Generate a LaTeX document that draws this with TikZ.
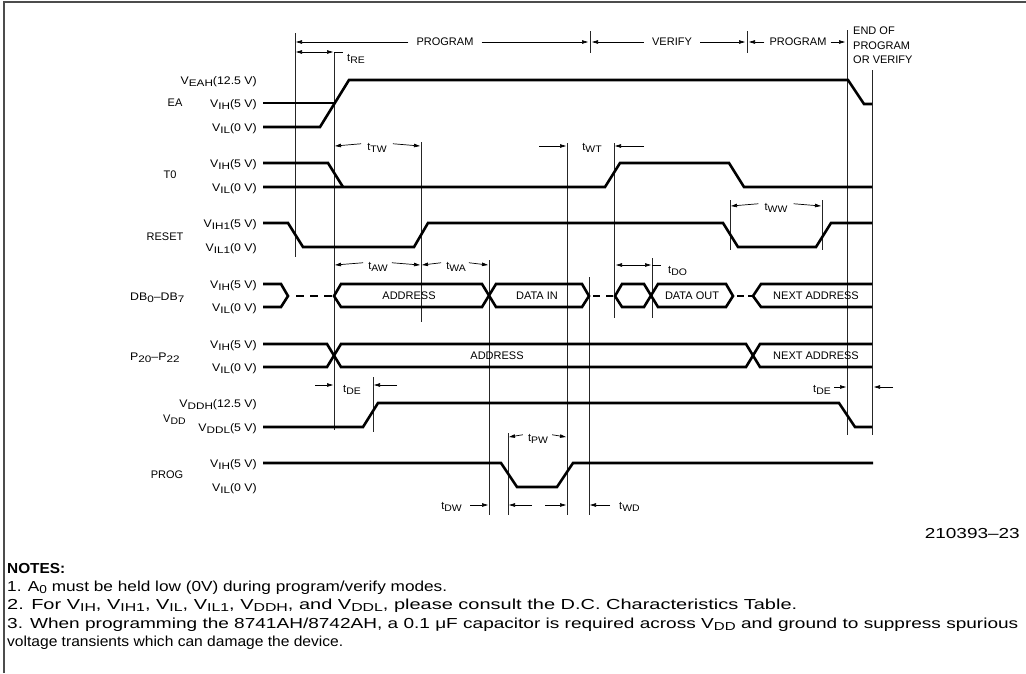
\documentclass[tikz,border=0pt]{standalone}
\usepackage{fontspec}
\setmainfont{Liberation Sans}
\usetikzlibrary{arrows.meta}
\newcommand\lo[1]{\raisebox{-0.45ex}{\fontsize{9.5}{10}\selectfont\scalebox{1.1}[1]{#1}}}
\newcommand\lv[1]{\scalebox{1.12}[1]{#1}}
\newcommand\nlo[1]{\raisebox{-0.35ex}{\fontsize{11.5}{12}\selectfont #1}}
\newcommand\fitw[2]{\resizebox{#1}{\height}{#2}}
\begin{document}
\begin{tikzpicture}[x=1pt,y=-1pt,
  sig/.style={line width=2.6pt, line join=miter},
  guide/.style={line width=0.7pt, black!85},
  dim/.style={line width=0.7pt},
  lbl/.style={inner sep=0pt, font=\fontsize{11}{13}\selectfont},
  lvl/.style={lbl, anchor=base east},
  note/.style={inner sep=0pt, anchor=base west, font=\fontsize{14.5}{16}\selectfont},
  >={Triangle[length=6pt,width=3.5pt]}]

\useasboundingbox (0,0) rectangle (1026,673);
\fill[white] (0,0) rectangle (1026,673);
\draw[line width=2pt, black!70] (4,673) -- (4,2) -- (1026,2);

% ---------- header ----------
\node[lbl] (hp1) at (445,42) {PROGRAM};
\node[lbl] (hv) at (672,42) {VERIFY};
\node[lbl] (hp2) at (798,42) {PROGRAM};
\draw[dim,->] (hp1.west) ++(-8,0) -- (296,42);
\draw[dim,->] (hp1.east) ++(8,0) -- (588,42);
\draw[guide] (590,31) -- (590,53);
\draw[dim,->] (hv.west) ++(-8,0) -- (592,42);
\draw[dim,->] (hv.east) ++(8,0) -- (745,42);
\draw[guide] (747,31) -- (747,53);
\draw[dim,->] (hp2.west) ++(-5,0) -- (749,42);
\draw[dim,->] (hp2.east) ++(4,0) -- (845,42);
\node[inner sep=0pt, anchor=north west, align=left, font=\fontsize{11}{14.5}\selectfont] (hend) at (853,27) {END OF\\PROGRAM\\OR VERIFY};

% ---------- guide lines ----------
\draw[guide] (295,33) -- (295,257);
\draw[guide] (334,52) -- (334,430);
\draw[guide] (421,142) -- (421,322);
\draw[guide] (489,260) -- (489,515);
\draw[guide] (508,433) -- (508,515);
\draw[guide] (567,143) -- (567,515);
\draw[guide] (589,277) -- (589,515);
\draw[guide] (614,143) -- (614,318);
\draw[guide] (652,258) -- (652,318);
\draw[guide] (730,200) -- (730,250);
\draw[guide] (822,200) -- (822,250);
\draw[guide] (847,30) -- (847,435);
\draw[guide] (872,70) -- (872,435);
\draw[guide] (373,377) -- (373,432);

% ---------- signal names ----------
\node[lbl] (nEA) at (175,103) {EA};
\node[lbl] (nT0) at (170,175) {T0};
\node[lbl] (nRST) at (165,237) {RESET};
\node[lbl, anchor=base west] (nDB) at (130,300) {\lv{DB\lo{0}--DB\lo{7}}};
\node[lbl, anchor=base west] (nP) at (130,360) {\lv{P\lo{20}--P\lo{22}}};
\node[lbl, anchor=base west] (nVDD) at (163,422) {V\lo{DD}};
\node[lbl] (nPROG) at (167,475) {PROG};

% ---------- level labels ----------
\node[lvl] (lEAH) at (257,84) {\lv{V\lo{EAH}(12.5 V)}};
\node[lvl] (lEAIH) at (257,107) {\lv{V\lo{IH}(5 V)}};
\node[lvl] (lEAIL) at (257,131) {\lv{V\lo{IL}(0 V)}};
\node[lvl] (lT0IH) at (257,167) {\lv{V\lo{IH}(5 V)}};
\node[lvl] (lT0IL) at (257,191) {\lv{V\lo{IL}(0 V)}};
\node[lvl] (lRIH) at (257,227) {\lv{V\lo{IH1}(5 V)}};
\node[lvl] (lRIL) at (257,251) {\lv{V\lo{IL1}(0 V)}};
\node[lvl] (lDBIH) at (257,288) {\lv{V\lo{IH}(5 V)}};
\node[lvl] (lDBIL) at (257,311) {\lv{V\lo{IL}(0 V)}};
\node[lvl] (lPIH) at (257,348) {\lv{V\lo{IH}(5 V)}};
\node[lvl] (lPIL) at (257,371) {\lv{V\lo{IL}(0 V)}};
\node[lvl] (lVDDH) at (257,407) {\lv{V\lo{DDH}(12.5 V)}};
\node[lvl] (lVDDL) at (257,431) {\lv{V\lo{DDL}(5 V)}};
\node[lvl] (lPRIH) at (257,467) {\lv{V\lo{IH}(5 V)}};
\node[lvl] (lPRIL) at (257,491) {\lv{V\lo{IL}(0 V)}};

% ---------- EA ----------
\draw[sig] (263,103) -- (335,103);
\draw[sig] (263,127) -- (320,127) -- (349,80) -- (848,80) -- (864,104) -- (872,104);
\draw[dim,<->] (296,52) -- (333,52);
\draw[dim] (334,52) -- (343,52);
\node[lbl, anchor=base west] (tRE) at (347,61) {t\lo{RE}};

% ---------- T0 ----------
\draw[sig] (263,163) -- (328,163) -- (343,187);
\draw[sig] (263,187) -- (605,187) -- (620,163) -- (729,163) -- (744,187) -- (872,187);
\node[lbl, anchor=base] (tTW) at (377,150) {t\lo{TW}};
\draw[dim,->] (tTW.west) ++(-6,-4) -- (335,146);
\draw[dim,->] (tTW.east) ++(6,-4) -- (420,146);
\node[lbl, anchor=base] (tWT) at (592,150) {t\lo{WT}};
\draw[dim,->] (539,146) -- (566,146);
\draw[dim,->] (644,146) -- (615,146);

% ---------- RESET ----------
\draw[sig] (263,223) -- (288,223) -- (303,247) -- (414,247) -- (428,223) -- (723,223) -- (738,247) -- (816,247) -- (831,223) -- (872,223);
\node[lbl, anchor=base] (tWW) at (776,210) {t\lo{WW}};
\draw[dim,->] (tWW.west) ++(-6,-4) -- (731,206);
\draw[dim,->] (tWW.east) ++(6,-4) -- (821,206);

% ---------- DB0-DB7 ----------
\node[lbl, anchor=base] (tAW) at (378,269) {t\lo{AW}};
\draw[dim,->] (tAW.west) ++(-5,-4) -- (335,265);
\draw[dim,->] (tAW.east) ++(4,-4) -- (420,265);
\node[lbl, anchor=base] (tWA) at (456,269) {t\lo{WA}};
\draw[dim,->] (tWA.west) ++(-5,-4) -- (422,265);
\draw[dim,->] (tWA.east) ++(3,-4) -- (488,265);
\draw[dim,<->] (616,265) -- (651,265);
\draw[dim] (652,265) -- (661,265);
\node[lbl, anchor=base west] (tDO) at (668,273) {t\lo{DO}};

\draw[sig] (263,284) -- (281,284) -- (288,296) -- (281,307) -- (263,307);
\draw[sig, dash pattern=on 8pt off 6pt] (296,296) -- (334,296);
\draw[sig] (334,296) -- (341,284) -- (482,284) -- (496,307) -- (582,307) -- (589,296) -- (582,284) -- (496,284) -- (482,307) -- (341,307) -- cycle;
\draw[sig] (593,296) -- (600,296) (606,296) -- (613,296);
\draw[sig] (615,296) -- (622,284) -- (644,284) -- (658,307) -- (726,307) -- (733,296) -- (726,284) -- (658,284) -- (644,307) -- (622,307) -- cycle;
\draw[sig] (737,296) -- (744,296) (748,296) -- (753,296);
\draw[sig] (872,284) -- (761,284) -- (753,296) -- (761,307) -- (872,307);
\node[lbl] (dADDR) at (409,296) {ADDRESS};
\node[lbl] (dDIN) at (537,296) {DATA IN};
\node[lbl] (dDOUT) at (692,296) {DATA OUT};
\node[lbl] (dNEXT) at (816,296) {NEXT ADDRESS};

% ---------- P20-P22 ----------
\draw[sig] (263,344) -- (327,344) -- (341,367) -- (746,367) -- (760,344) -- (872,344);
\draw[sig] (263,367) -- (327,367) -- (341,344) -- (746,344) -- (760,367) -- (872,367);
\node[lbl] (pADDR) at (497,356) {ADDRESS};
\node[lbl] (pNEXT) at (816,356) {NEXT ADDRESS};

% ---------- VDD ----------
\draw[sig] (263,427) -- (363,427) -- (378,403) -- (839,403) -- (855,427) -- (872,427);
\draw[dim,->] (315,385) -- (333,385);
\node[lbl, anchor=base west] (tDE1) at (343,392) {t\lo{DE}};
\draw[dim,->] (397,385) -- (374,385);
\node[lbl, anchor=base east] (tDE2) at (831,392) {t\lo{DE}};
\draw[dim,->] (834,387) -- (846,387);
\draw[dim,->] (893,387) -- (874,387);

% ---------- PROG ----------
\draw[sig] (263,463) -- (501,463) -- (517,487) -- (557,487) -- (573,463) -- (873,463);
\node[lbl, anchor=base] (tPW) at (538,441) {t\lo{PW}};
\draw[dim,->] (tPW.west) ++(-5,-4) -- (509,437);
\draw[dim,->] (tPW.east) ++(4,-4) -- (566,437);
\node[lbl, anchor=base east] (tDW) at (462,509) {t\lo{DW}};
\draw[dim,->] (470,505) -- (488,505);
\draw[dim,->] (532,505) -- (509,505);
\draw[dim,->] (545,505) -- (566,505);
\draw[dim,->] (610,505) -- (590,505);
\node[lbl, anchor=base west] (tWD) at (619,509) {t\lo{WD}};

% ---------- figure number and notes ----------
\node[note, anchor=base east] (fig) at (1020,538) {\fitw{95pt}{210393--23}};
\node[note, font=\fontsize{14.5}{16}\selectfont\bfseries] (notes) at (7,573) {\fitw{58pt}{NOTES:}};
\node[note] (n1) at (7,591) {\fitw{440pt}{1. A\nlo{0} must be held low (0V) during program/verify modes.}};
\node[note] (n2) at (7,609) {\fitw{790pt}{2. For V\nlo{IH}, V\nlo{IH1}, V\nlo{IL}, V\nlo{IL1}, V\nlo{DDH}, and V\nlo{DDL}, please consult the D.C. Characteristics Table.}};
\node[note] (n3) at (7,628) {\fitw{1011pt}{3. When programming the 8741AH/8742AH, a 0.1 μF capacitor is required across V\nlo{DD} and ground to suppress spurious}};
\node[note] (n4) at (7,646) {\fitw{336pt}{voltage transients which can damage the device.}};
\end{tikzpicture}
\end{document}
